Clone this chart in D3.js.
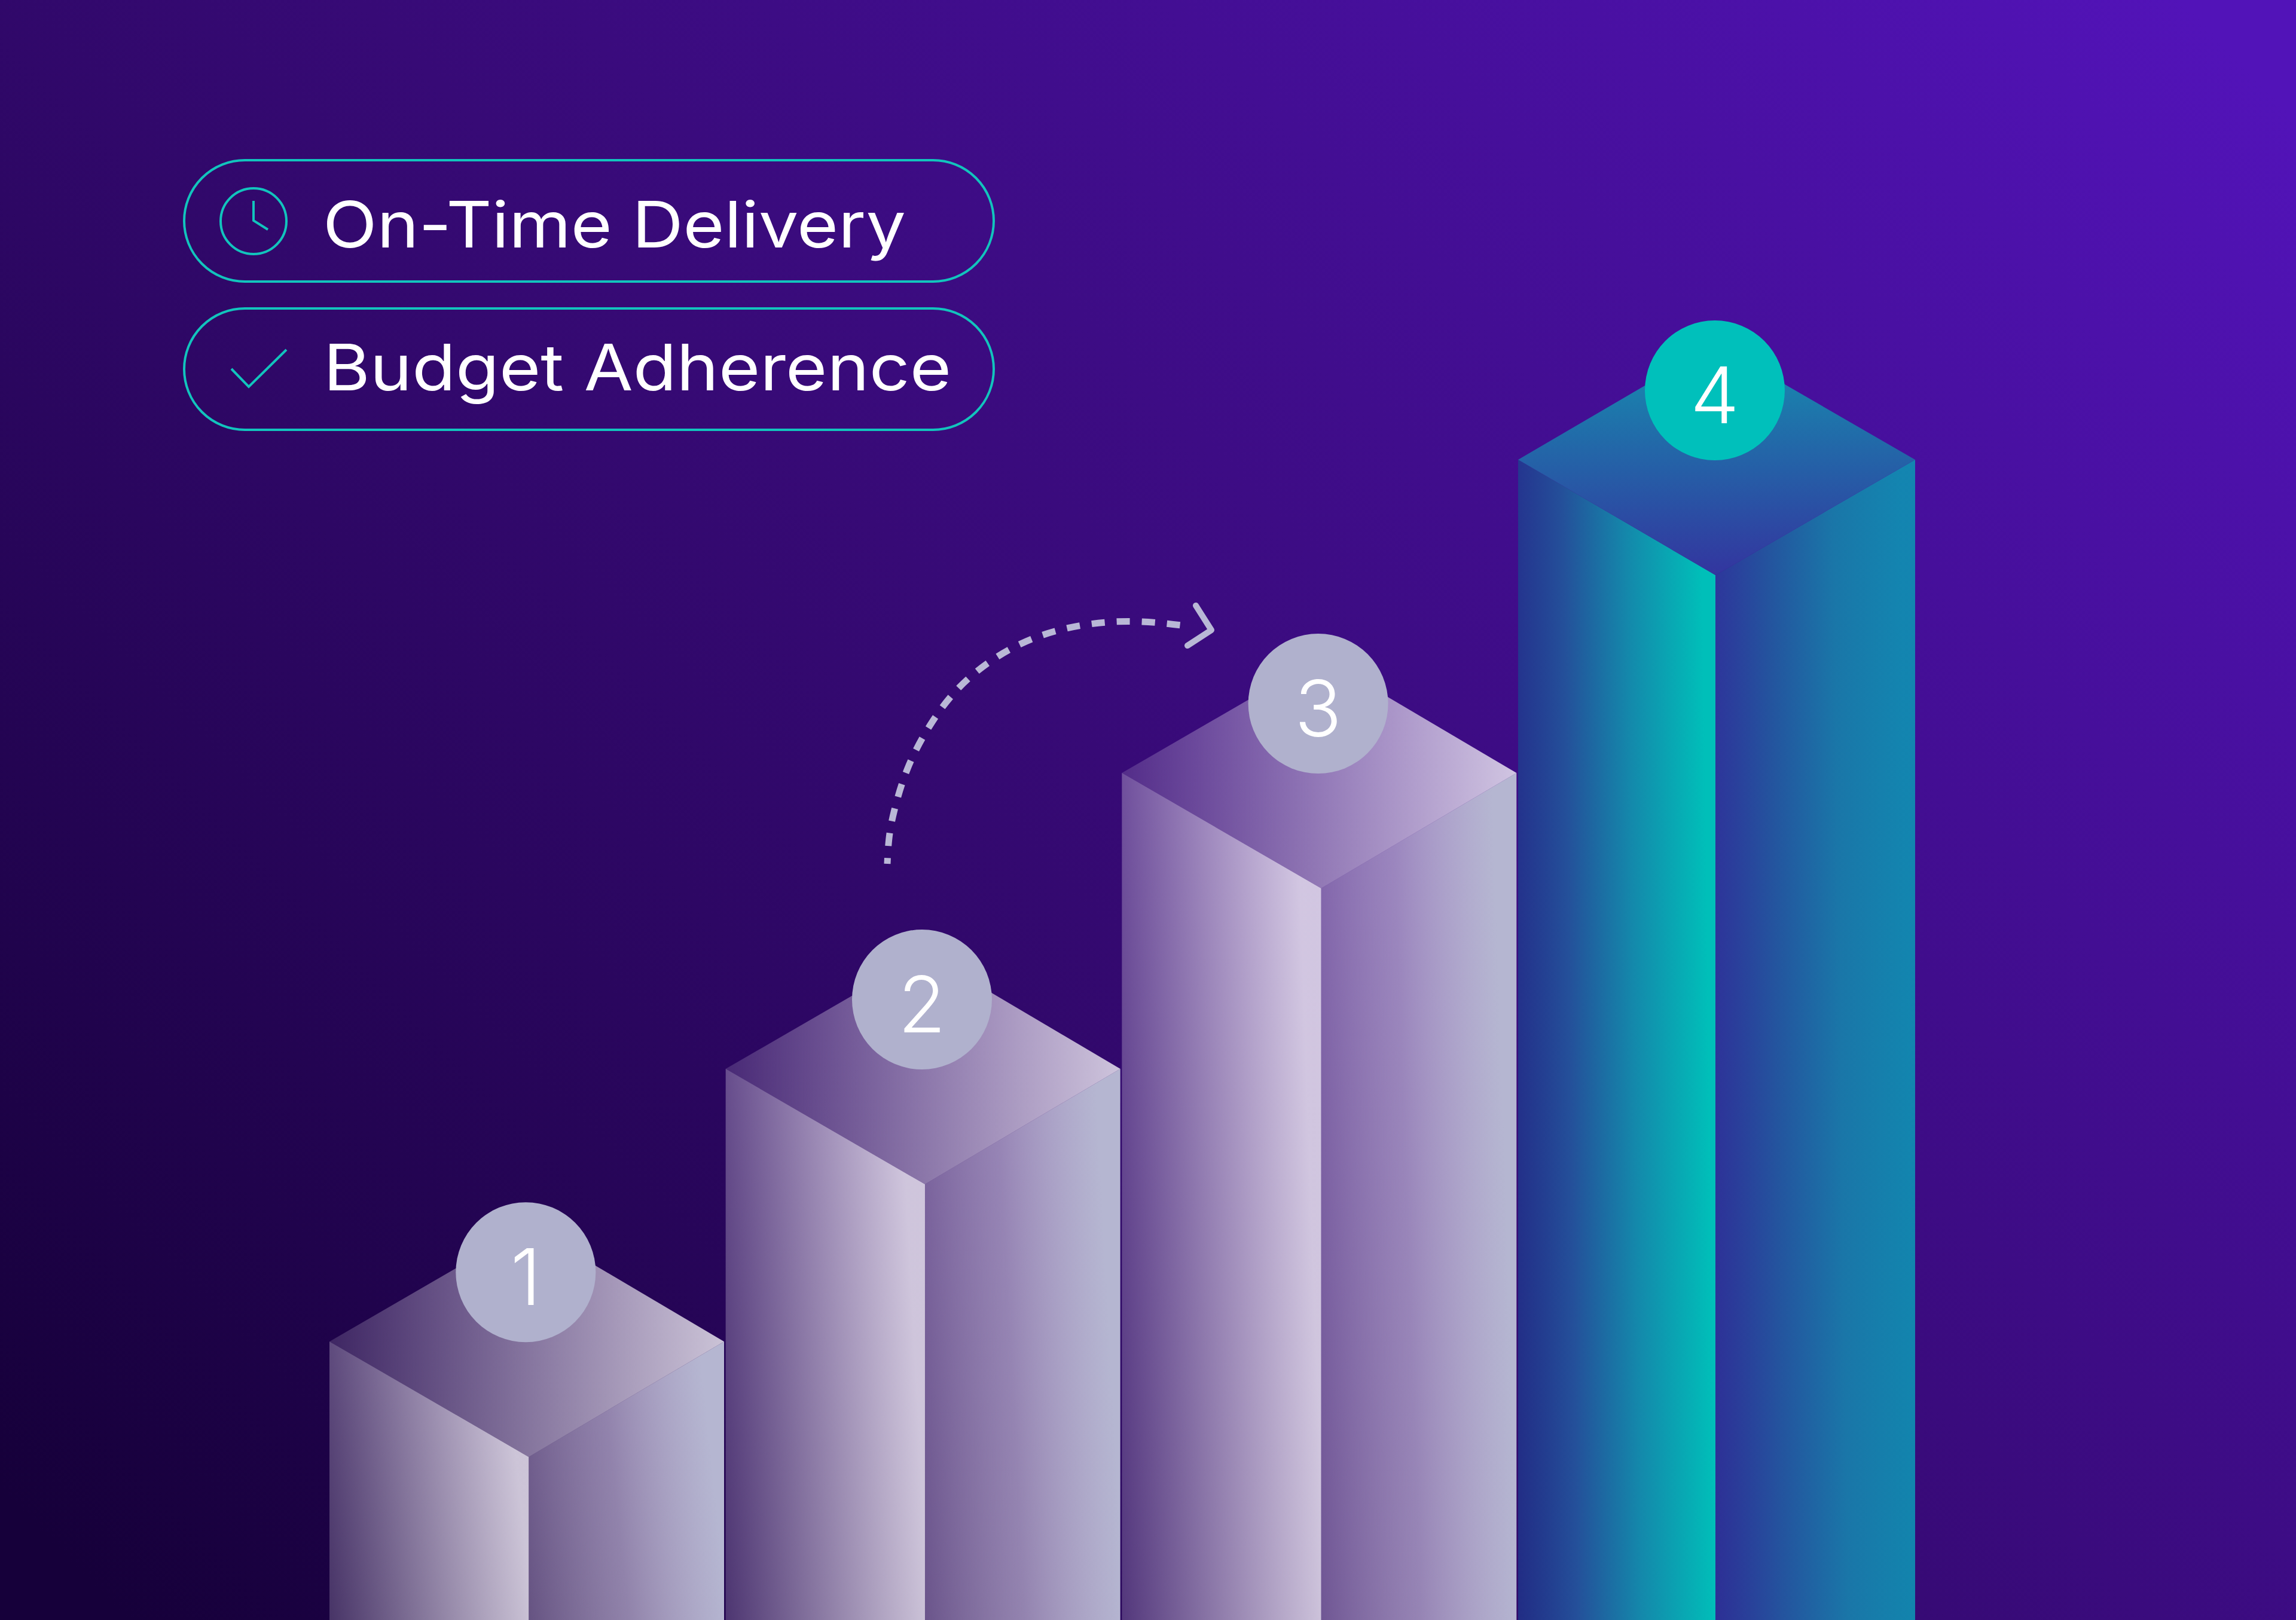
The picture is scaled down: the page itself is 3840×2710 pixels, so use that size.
<!DOCTYPE html>
<html>
<head>
<meta charset="utf-8">
<script src="https://cdn.jsdelivr.net/npm/d3@7"></script>
<style>
  html, body { margin: 0; padding: 0; background: #2c0863; }
  svg { display: block; }
</style>
</head>
<body>
<svg id="chart" width="3840" height="2710"></svg>
<script>
// chart values
const steps = ['1', '2', '3', '4'];
const heights = [24, 47.5, 73, 100];
const highlighted = ['4'];
const legendLabels = ['On-Time Delivery', 'Budget Adherence'];
const legendWidths = [975, 1050];
const arrowX = [1484, 1486, 1493, 1515, 1554, 1601, 1668, 1741, 1822, 1902, 1992];
const arrowY = [1445, 1403, 1363, 1285, 1212, 1148, 1095, 1060, 1042, 1037, 1048];

const width = 3840;
const height = 2710;
const svg = d3.select('#chart');
const defs = svg.append('defs');

// scales for the columns
const x = d3.scaleBand().domain(steps).range([551, 3199]).paddingInner(0.004);
const y = d3.scaleLinear().domain([0, 100]).range([height, 769]);
const roof = 193; // half height of the top diamond
const isTeal = (d) => highlighted.includes(d);
const midOf = (d) => x(d) + x.bandwidth() * (isTeal(d) ? 0.5 : 0.505);
const rightOf = (d) => x(d) + x.bandwidth() + (isTeal(d) ? 4 : 0);

function addGradient(id, units, v, stops) {
  const g = defs.append('linearGradient').attr('id', id).attr('gradientUnits', units)
    .attr('x1', v[0]).attr('y1', v[1]).attr('x2', v[2]).attr('y2', v[3]);
  stops.forEach((s) => g.append('stop').attr('offset', s[0]).attr('stop-color', s[1]).attr('stop-opacity', s[2]));
}

// background
addGradient('bg', 'userSpaceOnUse', [400, 2900, 3500, -150], [
  [0, '#16003a', 1],
  [0.5, '#370a76', 1],
  [1, '#5213b8', 1]
]);
svg.append('rect').attr('width', width).attr('height', height).attr('fill', 'url(#bg)');

// grey faces are translucent, the background shows through them.
// side faces keep the same lean on every column, so the vector is relative to the face box
const greyVector = [0, 1, 1, 0.85];
const tealVector = [0, 1, 1, 0.92];
addGradient('greyLeft', 'objectBoundingBox', greyVector, [
  [0, '#ffffff', 0.2], [1, '#fdfbff', 0.78]
]);
addGradient('greyRight', 'objectBoundingBox', greyVector, [
  [0, '#ffffff', 0.32], [0.5, '#dcd8ea', 0.6], [1, '#b5b6d1', 1]
]);
addGradient('greyTop', 'objectBoundingBox', [0, 0.5, 1, 0.5], [
  [0, '#ffffff', 0.14], [1, '#ffffff', 0.76]
]);
addGradient('tealLeft', 'objectBoundingBox', tealVector, [
  [0, '#1e368c', 0.8], [0.3, '#24509a', 1], [0.62, '#1488ab', 1], [1, '#00bfb9', 1]
]);
addGradient('tealRight', 'objectBoundingBox', tealVector, [
  [0, '#2c369c', 0.85], [0.33, '#24539e', 1], [0.66, '#1a76a8', 1], [1, '#0f8fb2', 0.92]
]);
addGradient('tealTop', 'objectBoundingBox', [0.5, 0, 0.5, 1], [
  [0, '#1590b0', 1], [1, '#33359f', 1]
]);

const bars = svg.append('g').selectAll('g').data(steps).join('g');
const poly = (pts) => pts.map((p) => p.join(',')).join(' ');
const tone = (d) => (isTeal(d) ? 'teal' : 'grey');

bars.append('polygon').attr('fill', (d) => `url(#${tone(d)}Left)`)
  .attr('points', (d, i) => poly([
    [x(d), y(heights[i])],
    [midOf(d), y(heights[i]) + roof],
    [midOf(d), y(0)],
    [x(d), y(0)]
  ]));
bars.append('polygon').attr('fill', (d) => `url(#${tone(d)}Right)`)
  .attr('points', (d, i) => poly([
    [midOf(d), y(heights[i]) + roof],
    [rightOf(d), y(heights[i])],
    [rightOf(d), y(0)],
    [midOf(d), y(0)]
  ]));
bars.append('polygon').attr('fill', (d) => `url(#${tone(d)}Top)`)
  .attr('points', (d, i) => poly([
    [x(d), y(heights[i])],
    [midOf(d), y(heights[i]) - roof],
    [rightOf(d), y(heights[i])],
    [midOf(d), y(heights[i]) + roof]
  ]));

// number badges
const badges = svg.append('g').selectAll('g').data(steps).join('g')
  .attr('transform', (d, i) => `translate(${midOf(d) - (isTeal(d) ? 1 : 5)},${y(heights[i]) - 116})`);
badges.append('circle').attr('r', 117)
  .attr('fill', (d) => (isTeal(d) ? '#00c0bb' : '#b0b1cd'));
badges.append('text').text((d) => d)
  .attr('text-anchor', 'middle').attr('y', 55)
  .attr('font-family', 'Inter').attr('font-weight', 300).attr('font-size', 130).attr('fill', '#fff');

// dashed arrow from column 2 to column 3
const arrowPoints = arrowX.map((v, i) => [v, arrowY[i]]);
svg.append('path')
  .attr('d', d3.line().curve(d3.curveBasis)(arrowPoints))
  .attr('fill', 'none').attr('stroke', '#b9b8d6').attr('stroke-width', 11)
  .attr('stroke-dasharray', '22 20').attr('stroke-dashoffset', 12);
svg.append('path')
  .attr('d', 'M2000,1013L2026,1054L1986,1080')
  .attr('fill', 'none').attr('stroke', '#b9b8d6').attr('stroke-width', 10)
  .attr('stroke-linecap', 'round').attr('stroke-linejoin', 'round');

// legend pills
const legend = svg.append('g').selectAll('g').data(legendLabels).join('g')
  .attr('transform', (d, i) => `translate(308,${268 + i * 248})`);
legend.append('rect').attr('width', 1354).attr('height', 203).attr('rx', 101.5)
  .attr('fill', 'none').attr('stroke', '#12c4bd').attr('stroke-width', 4);
legend.append('text').text((d) => d)
  .attr('x', (d, i) => (i === 0 ? 232 : 233)).attr('y', (d, i) => (i === 0 ? 146 : 137))
  .attr('textLength', (d, i) => legendWidths[i]).attr('lengthAdjust', 'spacingAndGlyphs')
  .attr('font-family', 'Inter').attr('font-weight', 400).attr('font-size', 107).attr('fill', '#fff');

const icons = svg.append('g').attr('fill', 'none').attr('stroke', '#12c4bd').attr('stroke-width', 4);
icons.append('circle').attr('cx', 424).attr('cy', 370).attr('r', 55);
icons.append('path').attr('d', 'M424,336V369L448,384');
icons.append('path').attr('d', 'M387,617L416,647L479,585');
</script>
</body>
</html>
